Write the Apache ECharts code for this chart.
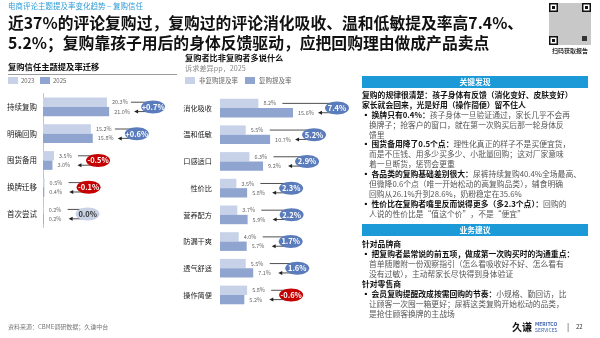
<!DOCTYPE html>
<html><head><meta charset="utf-8">
<script src="https://cdn.jsdelivr.net/npm/echarts@6/dist/echarts.min.js"></script>
<style>html,body{margin:0;padding:0;background:#fff}#c{width:600px;height:338px}</style>
</head><body><div id="c"></div>
<script>
// ---- data ----
var trustCats = ['持续复购','明确回购','囤货备用','换牌迁移','首次尝试'];
var trust2023 = [20.3, 15.2, 3.5, 0.5, 0.2];
var trust2025 = [21.0, 15.8, 3.0, 0.4, 0.2];
var trustDiff = [0.7, 0.6, -0.5, -0.1, 0.0];

var claimCats = ['消化吸收','温和低敏','口感适口','性价比','营养配方','防漏干爽','透气舒适','操作简便'];
var claimNon = [8.2, 5.5, 6.3, 3.5, 3.7, 4.0, 5.5, 5.8];
var claimRep = [15.6, 10.7, 9.2, 5.8, 5.9, 5.7, 7.1, 5.2];
var claimDiff = [7.4, 5.2, 2.9, 2.3, 2.2, 1.7, 1.6, -0.6];

var FONT = '"Noto Sans CJK SC", "Noto Sans", sans-serif';
var LIGHT = '#c7d2e8', DARK = '#8fa4cf', BLUE = '#5b7cbc', RED = '#c40000', GREY = '#c9d2e5';

function annoRenderer(signed) {
  return function (params, api) {
    var a = api.value(0), b = api.value(1), cat = api.value(2), d = api.value(3);
    var band = api.size([0, 1])[1];
    var h = band * 0.35;
    var pA = api.coord([a, cat]), pB = api.coord([b, cat]);
    var cy = pA[1];
    var yA = cy - h / 2, yB = cy + h / 2;
    var cx = Math.max(pA[0], pB[0]) + 44;
    var rx = 12, ry = 6.5;
    var sA = pA[0] + 24, tip = pB[0] + 25;
    var fill = d > 0 ? BLUE : (d < 0 ? RED : GREY);
    var txt = (signed && d > 0 ? '+' : '') + d.toFixed(1) + '%';
    return {
      type: 'group',
      children: [
        {type: 'line', shape: {x1: sA, y1: yA, x2: cx, y2: yA}, style: {stroke: '#222', lineWidth: 0.8}},
        {type: 'line', shape: {x1: cx, y1: yB, x2: tip + 3, y2: yB}, style: {stroke: '#222', lineWidth: 0.8}},
        {type: 'polygon', shape: {points: [[tip, yB], [tip + 4, yB - 2], [tip + 4, yB + 2]]}, style: {fill: '#222'}},
        {type: 'ellipse', shape: {cx: cx, cy: cy, rx: rx, ry: ry}, style: {fill: fill}},
        {type: 'text', style: {text: txt, x: cx, y: cy, align: 'center', verticalAlign: 'middle',
          fill: d === 0 ? '#333' : '#fff', fontSize: 7.5, fontWeight: 'bold', fontFamily: FONT}}
      ]
    };
  };
}

function barSeries(data, color, xi) {
  return {
    type: 'bar', xAxisIndex: xi, yAxisIndex: xi, data: data, barGap: '0%', barCategoryGap: '30%',
    itemStyle: {color: color}, silent: true,
    label: {show: true, position: 'right', distance: 5, fontSize: 5.5, color: '#666', fontFamily: FONT,
      formatter: function (p) { return p.value.toFixed(1) + '%'; }}
  };
}

function annoData(a, b, d) {
  return a.map(function (v, i) { return [v, b[i], i, d[i]]; });
}

// ---- right panel text ----
var RX = 362, IND = 369;
var rich = {
  b: {fontSize: 7.8, fontWeight: 'bold', fill: '#111', fontFamily: FONT},
  n: {fontSize: 7.8, fill: '#555', fontFamily: FONT},
  d: {fontSize: 7.8, fill: '#111', fontFamily: FONT}
};
var panelLines = [
  [RX, 95, '{b|复购的规律很清楚：孩子身体有反馈（消化变好、皮肤变好）}'],
  [RX, 105, '{b|家长就会回来，光是好用（操作简便）留不住人}'],
  [RX, 115, '{d|▪ }{b|换牌只有0.4%：}{n|孩子身体一旦验证通过，家长几乎不会再}'],
  [IND, 125, '{n|换牌子；抢客户的窗口，就在第一次购买后那一轮身体反}'],
  [IND, 135, '{n|馈里}'],
  [RX, 144.5, '{d|▪ }{b|囤货备用降了0.5个点：}{n|理性化真正的样子不是买便宜货，}'],
  [IND, 154.5, '{n|而是不压钱、用多少买多少、小批量回购；这对厂家意味}'],
  [IND, 164.5, '{n|着一旦断货，惩罚会更重}'],
  [RX, 174, '{d|▪ }{b|各品类的复购基础差别很大：}{n|尿裤持续复购40.4%全场最高、}'],
  [IND, 184, '{n|但微降0.6个点（唯一开始松动的高复购品类），辅食明确}'],
  [IND, 194, '{n|回购从26.1%升到28.6%，奶粉稳定在35.6%}'],
  [RX, 204, '{d|▪ }{b|性价比在复购者嘴里反而说得更多（多2.3个点）：}{n|回购的}'],
  [IND, 214, '{n|人说的性价比是“值这个价”，不是“便宜”}'],
  [RX, 244, '{b|针对品牌商}'],
  [RX, 254, '{d|▪ }{b|把复购者最常说的前五项，做成第一次购买时的沟通重点：}'],
  [IND, 264, '{n|首单随赠附一份观察指引（怎么看吸收好不好、怎么看有}'],
  [IND, 274, '{n|没有过敏），主动帮家长尽快得到身体验证}'],
  [RX, 284, '{b|针对零售商}'],
  [RX, 294, '{d|▪ }{b|会员复购提醒改成按需回购的节奏：}{n|小规格、勤回访，比}'],
  [IND, 304, '{n|让顾客一次囤一箱更好；尿裤这类复购开始松动的品类，}'],
  [IND, 314, '{n|是抢住顾客换牌的主战场}']
];

function txt(x, y, s, o) {
  o = o || {};
  return {type: 'text', silent: true, style: {text: s, x: x, y: y, fill: o.fill || '#222',
    fontSize: o.size || 8, fontWeight: o.weight || 'normal', fontFamily: FONT,
    align: o.align || 'left', verticalAlign: 'middle'}};
}

var graphics = [];
graphics.push(txt(8, 6, '电商评论主题提及率变化趋势 – 复购信任', {fill: '#2e9bd6', size: 7.5}));
graphics.push(txt(8, 23, '近37%的评论复购过，复购过的评论消化吸收、温和低敏提及率高7.4%、', {size: 15.8, weight: 'bold', fill: '#111'}));
graphics.push(txt(8, 43, '5.2%；复购靠孩子用后的身体反馈驱动，应把回购理由做成产品卖点', {size: 15.8, weight: 'bold', fill: '#111'}));

// QR placeholder
graphics.push({type: 'rect', silent: true, shape: {x: 549, y: 3, width: 42, height: 42}, style: {fill: '#c8c8c8'}});
[[549, 3], [582, 3], [549, 36]].forEach(function (p) {
  graphics.push({type: 'rect', silent: true, shape: {x: p[0], y: p[1], width: 9, height: 9}, style: {fill: '#111'}});
  graphics.push({type: 'rect', silent: true, shape: {x: p[0] + 1.5, y: p[1] + 1.5, width: 6, height: 6}, style: {fill: '#fff'}});
  graphics.push({type: 'rect', silent: true, shape: {x: p[0] + 3, y: p[1] + 3, width: 3, height: 3}, style: {fill: '#111'}});
});
graphics.push({type: 'rect', silent: true, shape: {x: 582, y: 36, width: 5, height: 5}, style: {fill: '#333'}});
graphics.push(txt(570, 51, '扫码获取报告', {size: 6, weight: 'bold', align: 'center', fill: '#333'}));

// left section header
graphics.push(txt(8, 67, '复购信任主题提及率迁移', {size: 8.3, weight: 'bold', fill: '#111'}));
graphics.push({type: 'line', silent: true, shape: {x1: 8, y1: 74.5, x2: 177, y2: 74.5}, style: {stroke: '#9a9a9a', lineWidth: 1}});
graphics.push({type: 'rect', silent: true, shape: {x: 8, y: 77, width: 10, height: 7}, style: {fill: LIGHT}});
graphics.push(txt(21, 80.5, '2023', {size: 6, fill: '#666'}));
graphics.push({type: 'rect', silent: true, shape: {x: 40, y: 77, width: 10, height: 7}, style: {fill: DARK}});
graphics.push(txt(53, 80.5, '2025', {size: 6, fill: '#666'}));

// middle section header
graphics.push(txt(185, 58, '复购者比非复购者多说什么', {size: 8.2, weight: 'bold', fill: '#111'}));
graphics.push(txt(185, 68.5, '诉求差异pp，2025', {size: 7.2, fill: '#888'}));
graphics.push({type: 'rect', silent: true, shape: {x: 185, y: 77, width: 10, height: 7}, style: {fill: LIGHT}});
graphics.push(txt(199, 80.5, '非复购提及率', {size: 6.5, fill: '#666'}));
graphics.push({type: 'rect', silent: true, shape: {x: 245, y: 77, width: 10, height: 7}, style: {fill: DARK}});
graphics.push(txt(259, 80.5, '复购提及率', {size: 6.5, fill: '#666'}));

// right panel headers
graphics.push({type: 'rect', silent: true, shape: {x: 362, y: 76, width: 226, height: 12}, style: {fill: '#1c9ad8'}});
graphics.push(txt(475, 82, '关键发现', {size: 7.8, weight: 'bold', fill: '#fff', align: 'center'}));
graphics.push({type: 'rect', silent: true, shape: {x: 362, y: 224, width: 226, height: 12}, style: {fill: '#1c9ad8'}});
graphics.push(txt(475, 230, '业务建议', {size: 7.8, weight: 'bold', fill: '#fff', align: 'center'}));
panelLines.forEach(function (l) {
  graphics.push({type: 'text', silent: true, style: {text: l[2], x: l[0], y: l[1], rich: rich,
    fontSize: 7.8, fontFamily: FONT, verticalAlign: 'middle'}});
});

// footer
graphics.push(txt(8, 327, '资料来源：CBME调研数据；久谦中台', {size: 6, fill: '#777'}));
graphics.push(txt(512, 327, '久谦', {size: 10, weight: 'bold', fill: '#111'}));
graphics.push(txt(535, 324, 'MERITCO', {size: 5, weight: 'bold', fill: '#3b5ea8'}));
graphics.push(txt(535, 330, 'SERVICES', {size: 5, fill: '#3b5ea8'}));
graphics.push(txt(567, 327, '|', {size: 8, fill: '#333'}));
graphics.push(txt(576, 327, '22', {size: 6, fill: '#333'}));

var chart = echarts.init(document.getElementById('c'), null, {renderer: 'canvas'});
chart.setOption({
  animation: false,
  backgroundColor: '#fff',
  grid: [
    {left: 43, top: 93.5, width: 126, height: 134},
    {left: 220, top: 94.7, width: 117, height: 213.6}
  ],
  xAxis: [
    {gridIndex: 0, type: 'value', min: 0, max: 40, show: false},
    {gridIndex: 1, type: 'value', min: 0, max: 25, show: false}
  ],
  yAxis: [
    {gridIndex: 0, type: 'category', data: trustCats, inverse: true,
      axisTick: {show: false}, axisLine: {show: true, lineStyle: {color: '#b9c5de', width: 1}},
      axisLabel: {fontSize: 7.5, color: '#222', margin: 6, fontFamily: FONT}},
    {gridIndex: 1, type: 'category', data: claimCats, inverse: true,
      axisTick: {show: false}, axisLine: {show: false},
      axisLabel: {fontSize: 7.2, color: '#222', margin: 8, fontFamily: FONT}}
  ],
  series: [
    barSeries(trust2023, LIGHT, 0),
    barSeries(trust2025, DARK, 0),
    barSeries(claimNon, LIGHT, 1),
    barSeries(claimRep, DARK, 1),
    {type: 'custom', xAxisIndex: 0, yAxisIndex: 0, clip: false, silent: true,
      encode: {x: [0, 1], y: 2}, renderItem: annoRenderer(true), data: annoData(trust2023, trust2025, trustDiff), z: 5},
    {type: 'custom', xAxisIndex: 1, yAxisIndex: 1, clip: false, silent: true,
      encode: {x: [0, 1], y: 2}, renderItem: annoRenderer(false), data: annoData(claimNon, claimRep, claimDiff), z: 5}
  ],
  graphic: graphics
});
</script>
</body></html>
